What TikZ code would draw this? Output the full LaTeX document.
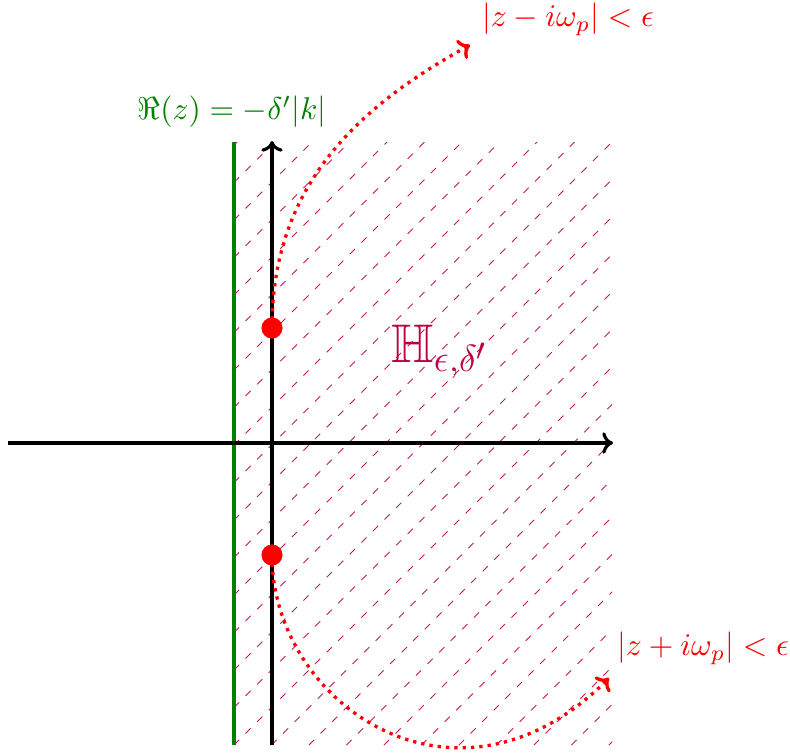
\documentclass[tikz,border=0pt]{standalone}
\usepackage{amssymb}
\usetikzlibrary{arrows.meta}
\begin{document}
\begin{tikzpicture}[x=0.3175pt,y=-0.3175pt,
  tip/.style={-{To[length=3.4pt,width=6.8pt]}},
  axis/.style={line width=1pt,tip,black},
  wall/.style={line width=1.1pt,green!50!black},
  hatch/.style={purple!90!white,line width=0.32pt,dash pattern=on 2.3pt off 2.9pt},
  curve/.style={red,line width=1.05pt,dash pattern=on 1.05pt off 1.6pt,tip},
  dot/.style={circle,fill=red,inner sep=0pt,minimum size=6.6pt},
  lab/.style={inner sep=0pt}]
\useasboundingbox (0,0) rectangle (790,753);
% hatched region
\begin{scope}
  \clip (234,142) rectangle (612,745);
  \foreach \k in {0,...,16} \draw[hatch] (234,745-37.5*\k) -- ++(600,-600);
  \foreach \k in {1,...,10} \draw[hatch] (234+37.5*\k,745) -- ++(600,-600);
\end{scope}
% coordinates
\coordinate (xl) at (8,443);
\coordinate (xr) at (613,443);
\coordinate (yb) at (272,745);
\coordinate (yt) at (272,141);
\coordinate (gb) at (234,745);
\coordinate (gt) at (234,142);
\coordinate (eu) at (470,45);
\coordinate (el) at (609,678);
% wall and axes
\draw[wall] (gb) -- (gt);
\draw[axis] (xl) -- (xr);
\draw[axis] (yb) -- (yt);
% poles
\node[dot] (du) at (272,328) {};
\node[dot] (dl) at (272,555) {};
% curves
\draw[curve] (du.center) .. controls (272,190) and (352,110) .. (eu);
\draw[curve] (dl.center) .. controls (272,705) and (457,830) .. (el);
\node[dot] at (du) {};
\node[dot] at (dl) {};
% labels
\node[lab,text=red] (lu) at (568,19) {$|z-i\omega_p|<\epsilon$};
\node[lab,text=red] (ll) at (703,648) {$|z+i\omega_p|<\epsilon$};
\node[lab,text=green!50!black] (lg) at (232,112) {$\Re(z)=-\delta'|k|$};
\node[lab,text=purple,anchor=base west,font=\LARGE] (lh) at (391,362) {$\mathbb{H}_{\epsilon,\delta'}$};
\end{tikzpicture}
\end{document}
